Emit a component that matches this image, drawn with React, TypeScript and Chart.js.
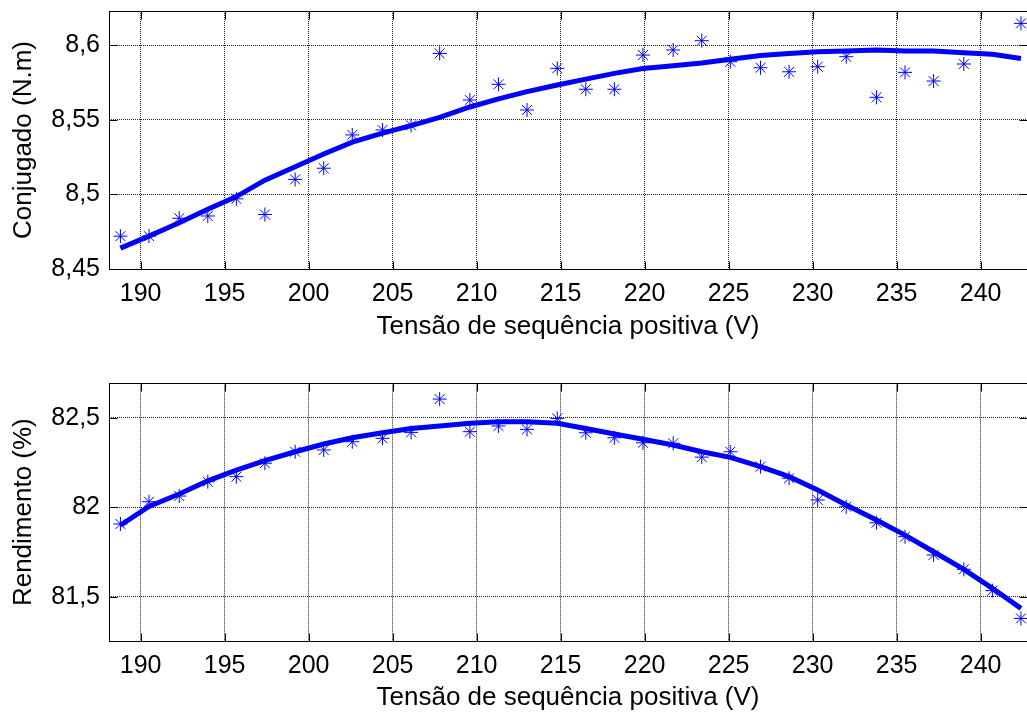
import React, { useEffect, useRef } from 'react';
import { Chart, registerables } from 'chart.js';

Chart.register(...registerables);

// ---------- data ----------
const voltage = [
  188.8, 190.5, 192.3, 194.0, 195.7, 197.4, 199.2, 200.9, 202.6, 204.4, 206.1,
  207.8, 209.6, 211.3, 213.0, 214.8, 216.5, 218.2, 219.9, 221.7, 223.4, 225.1,
  226.9, 228.6, 230.3, 232.0, 233.8, 235.5, 237.2, 239.0, 240.7, 242.4,
];

const torqueMeasured: (number | null)[] = [
  8.472, 8.472, 8.484, 8.4855, 8.497, 8.4865, 8.51, 8.5175, 8.5398, 8.5431, 8.5462,
  8.5944, 8.5632, 8.5737, 8.5565, 8.5844, 8.5704, 8.5704, 8.5933, 8.5967, 8.6029, 8.5888,
  8.5848, 8.5821, 8.5855, 8.5922, 8.565, 8.5817, 8.5759, 8.5873, null, 8.6145,
];

const torqueFit = [
  8.464, 8.472, 8.481, 8.49, 8.4985, 8.5095, 8.5185, 8.527, 8.535, 8.541, 8.546,
  8.5515, 8.5585, 8.564, 8.5688, 8.5732, 8.5772, 8.581, 8.5843, 8.5862, 8.588, 8.5905,
  8.593, 8.5944, 8.5955, 8.596, 8.5967, 8.596, 8.596, 8.5948, 8.5938, 8.591,
];

const efficiencyMeasured = [
  81.907, 82.031, 82.063, 82.143, 82.171, 82.246, 82.31, 82.32, 82.366, 82.385, 82.418,
  82.604, 82.422, 82.454, 82.435, 82.496, 82.416, 82.388, 82.36, 82.357, 82.28, 82.31,
  82.227, 82.162, 82.041, 82.003, 81.914, 81.836, 81.734, 81.654, 81.535, 81.38,
];

const efficiencyFit = [
  81.9, 82.005, 82.074, 82.148, 82.208, 82.26, 82.31, 82.353, 82.388, 82.416, 82.44,
  82.454, 82.469, 82.478, 82.478, 82.469, 82.44, 82.409, 82.38, 82.348, 82.31, 82.279,
  82.227, 82.171, 82.097, 82.013, 81.929, 81.845, 81.752, 81.654, 81.548, 81.436,
];

const voltageTicks = [190, 195, 200, 205, 210, 215, 220, 225, 230, 235, 240];
const torqueTicks = [8.45, 8.5, 8.55, 8.6];
const efficiencyTicks = [81.5, 82, 82.5];

const voltageRange = [188.12, 242.76];
const torqueRange = [8.45, 8.6228];
const efficiencyRange = [81.254, 82.692];

const xTitle = 'Tensão de sequência positiva (V)';
const torqueTitle = 'Conjugado (N.m)';
const efficiencyTitle = 'Rendimento (%)';

// ---------- styling ----------
const FONT = '"Liberation Sans", Arial, Helvetica, sans-serif';
const BLUE = '#0000FF';

const fmt = (v: number | string) => String(v).replace('.', ',');

const boxPlugin = {
  id: 'matlabBox',
  afterDraw(chart: any) {
    const { ctx, chartArea: a, scales } = chart;
    ctx.save();
    ctx.strokeStyle = '#000';
    ctx.lineWidth = 1;
    const l = Math.round(a.left) + 0.5;
    const t = Math.round(a.top) + 0.5;
    const r = Math.round(a.right) + 0.5;
    const b = Math.round(a.bottom) + 0.5;
    ctx.strokeRect(l, t, r - l, b - t);
    const L = 8;
    ctx.beginPath();
    scales.x.ticks.forEach((tk: any) => {
      const px = Math.round(scales.x.getPixelForValue(tk.value)) + 0.5;
      ctx.moveTo(px, t);
      ctx.lineTo(px, t + L);
      ctx.moveTo(px, b);
      ctx.lineTo(px, b - L);
    });
    scales.y.ticks.forEach((tk: any) => {
      const py = Math.round(scales.y.getPixelForValue(tk.value)) + 0.5;
      ctx.moveTo(l, py);
      ctx.lineTo(l + L, py);
      ctx.moveTo(r, py);
      ctx.lineTo(r - L, py);
    });
    ctx.stroke();
    ctx.restore();
  },
};

type PanelSpec = {
  measured: (number | null)[];
  fit: number[];
  yRange: number[];
  yTicks: number[];
  yTitle: string;
  padTop: number;
  xAxisHeight: number;
  xTitlePadBottom: number;
};

function makeConfig(p: PanelSpec): any {
  return {
    type: 'line',
    data: {
      datasets: [
        {
          label: 'fit',
          data: voltage.map((x, i) => ({ x, y: p.fit[i] })),
          borderColor: BLUE,
          backgroundColor: BLUE,
          borderWidth: 5,
          pointRadius: 0,
          tension: 0,
          fill: false,
        },
        {
          label: 'measured',
          data: voltage.map((x, i) => ({ x, y: p.measured[i] })),
          showLine: false,
          pointStyle: 'star',
          pointRadius: 7,
          pointBorderWidth: 1,
          borderColor: BLUE,
          backgroundColor: BLUE,
          pointBorderColor: BLUE,
        },
      ],
    },
    options: {
      responsive: false,
      animation: false,
      devicePixelRatio: 1,
      layout: { padding: { left: 0, right: 5, top: p.padTop, bottom: 0 } },
      plugins: { legend: { display: false }, tooltip: { enabled: false } },
      scales: {
        x: {
          type: 'linear',
          min: voltageRange[0],
          max: voltageRange[1],
          afterBuildTicks: (s: any) => {
            s.ticks = voltageTicks.map((v) => ({ value: v }));
          },
          afterFit: (s: any) => {
            s.height = p.xAxisHeight;
            s.paddingLeft = 0;
            s.paddingRight = 0;
          },
          grid: { color: '#222', lineWidth: 1, drawTicks: false },
          border: { display: false, dash: [1, 1] },
          ticks: {
            color: '#000',
            font: { family: FONT, size: 25 },
            padding: 10,
            maxRotation: 0,
            autoSkip: false,
            callback: (v: any) => fmt(v),
          },
          title: {
            display: true,
            text: xTitle,
            color: '#000',
            font: { family: FONT, size: 26, lineHeight: 1 },
            padding: { top: 0, bottom: p.xTitlePadBottom },
          },
        },
        y: {
          type: 'linear',
          min: p.yRange[0],
          max: p.yRange[1],
          afterBuildTicks: (s: any) => {
            s.ticks = p.yTicks.map((v) => ({ value: v }));
          },
          afterFit: (s: any) => {
            s.width = 109;
            s.paddingTop = 0;
            s.paddingBottom = 0;
          },
          grid: { color: '#222', lineWidth: 1, drawTicks: false },
          border: { display: false, dash: [1, 1] },
          ticks: {
            color: '#000',
            font: { family: FONT, size: 25 },
            padding: 9,
            autoSkip: false,
            callback: (v: any) => fmt(v),
          },
          title: {
            display: true,
            text: p.yTitle,
            color: '#000',
            font: { family: FONT, size: 26, lineHeight: 1 },
            padding: { top: 11, bottom: 0 },
          },
        },
      },
    },
    plugins: [boxPlugin],
  };
}

export default function App() {
  const topRef = useRef<HTMLCanvasElement>(null);
  const botRef = useRef<HTMLCanvasElement>(null);

  useEffect(() => {
    const c1 = new Chart(
      topRef.current as HTMLCanvasElement,
      makeConfig({
        measured: torqueMeasured,
        fit: torqueFit,
        yRange: torqueRange,
        yTicks: torqueTicks,
        yTitle: torqueTitle,
        padTop: 11,
        xAxisHeight: 81,
        xTitlePadBottom: 10,
      })
    );
    const c2 = new Chart(
      botRef.current as HTMLCanvasElement,
      makeConfig({
        measured: efficiencyMeasured,
        fit: efficiencyFit,
        yRange: efficiencyRange,
        yTicks: efficiencyTicks,
        yTitle: efficiencyTitle,
        padTop: 23.3,
        xAxisHeight: 72,
        xTitlePadBottom: 2.5,
      })
    );
    return () => {
      c1.destroy();
      c2.destroy();
    };
  }, []);

  return (
    <div
      style={{
        position: 'fixed',
        left: 0,
        top: 0,
        width: 1027,
        height: 713,
        overflow: 'hidden',
        background: '#fff',
      }}
    >
      <canvas
        ref={topRef}
        width={1035}
        height={350}
        style={{ position: 'absolute', left: 0, top: 0, width: 1035, height: 350 }}
      />
      <canvas
        ref={botRef}
        width={1035}
        height={353}
        style={{ position: 'absolute', left: 0, top: 360, width: 1035, height: 353 }}
      />
    </div>
  );
}
